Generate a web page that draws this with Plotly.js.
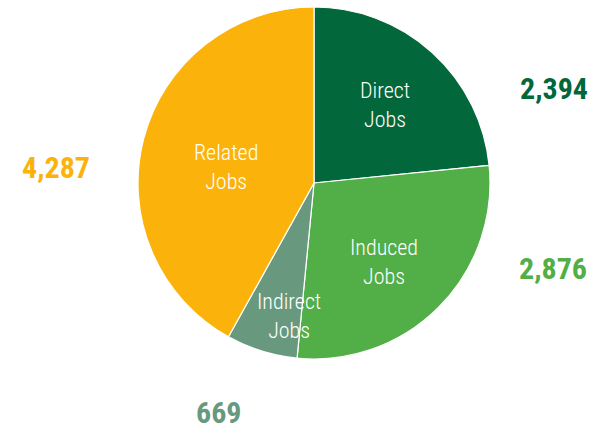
<!DOCTYPE html>
<html><head><meta charset="utf-8">
<script src="https://cdn.plot.ly/plotly-3.0.1.min.js"></script>
<style>html,body{margin:0;padding:0;background:#fff}#chart{width:596px;height:432px}</style>
</head><body><div id="chart"></div>
<script>
const categories = ["Direct<br>Jobs", "Induced<br>Jobs", "Indirect<br>Jobs", "Related<br>Jobs"];
const values = [2394, 2876, 669, 4287];
const colors = ["#02673B", "#52AE47", "#68997E", "#FBB30C"];
const valueLabelPos = [[554, 89], [553, 268], [218, 412], [56, 167]];
const catLabelPos = [[385, 105], [384, 262], [289, 316], [226, 167]];

const W = 596, H = 432;
const FONT = "'Liberation Sans Narrow', 'Roboto Condensed', 'Arial Narrow', Roboto, sans-serif";
const annotations = [];
values.forEach((v, i) => {
  annotations.push({
    x: valueLabelPos[i][0] / W, y: 1 - valueLabelPos[i][1] / H, xref: 'paper', yref: 'paper',
    text: '<b>' + v.toLocaleString('en-US') + '</b>', showarrow: false, borderpad: 0,
    font: {family: FONT, size: 30, color: colors[i]}, xanchor: 'center', yanchor: 'middle'
  });
  annotations.push({
    x: catLabelPos[i][0] / W, y: 1 - catLabelPos[i][1] / H, xref: 'paper', yref: 'paper',
    text: categories[i], showarrow: false, borderpad: 0,
    font: {family: FONT, size: 22, color: '#ffffff', weight: 300}, xanchor: 'center', yanchor: 'middle'
  });
});

Plotly.newPlot('chart', [{
  type: 'pie',
  labels: categories,
  values: values,
  sort: false,
  direction: 'clockwise',
  rotation: 0,
  textinfo: 'none',
  hoverinfo: 'label+value',
  marker: {colors: colors, line: {color: '#ffffff', width: 1.2}},
  domain: {x: [138 / W, 490 / W], y: [1 - 359 / H, 1 - 7 / H]}
}], {
  width: W, height: H,
  margin: {l: 0, r: 0, t: 0, b: 0},
  showlegend: false,
  paper_bgcolor: '#ffffff',
  annotations: annotations
}, {displayModeBar: false, staticPlot: true});
</script></body></html>
